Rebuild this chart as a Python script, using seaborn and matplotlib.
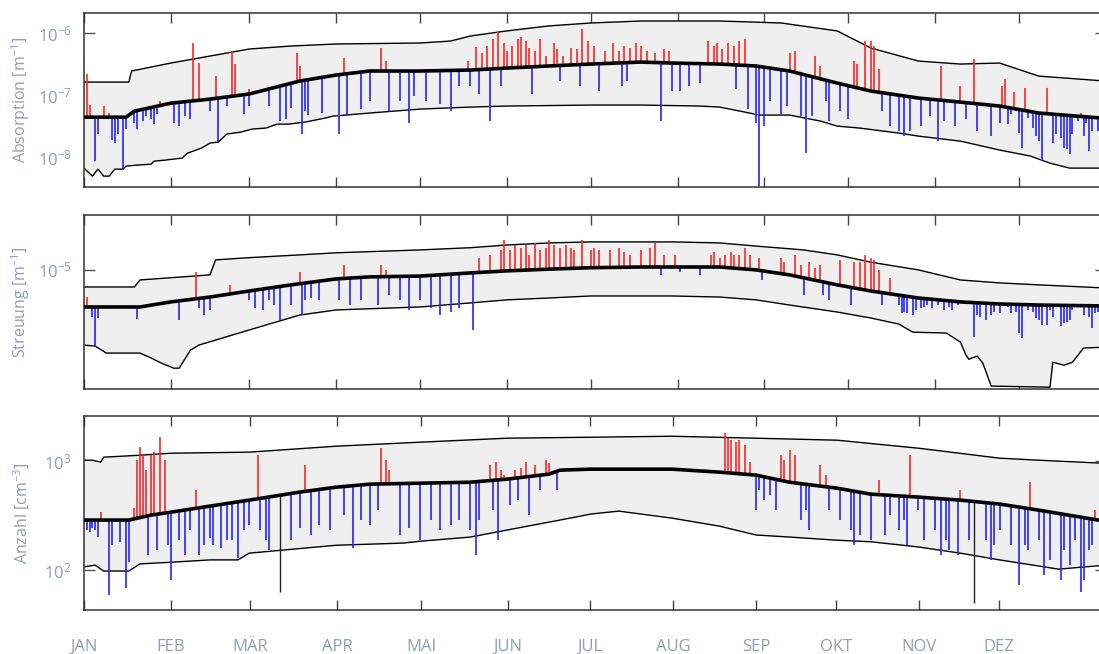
import numpy as np
import matplotlib
matplotlib.use("Agg")
import matplotlib.pyplot as plt
import seaborn as sns
from matplotlib.ticker import LogLocator, LogFormatterSciNotation, NullLocator, FixedLocator

# ---------------------------------------------------------------- data
# day-of-year positions of the month starts
month_starts = [0, 31, 59, 90, 120, 151, 181, 212, 243, 273, 304, 334]
month_names = ["JAN", "FEB", "MÄR", "APR", "MAI", "JUN", "JUL", "AUG", "SEP", "OKT", "NOV", "DEZ"]
# month ticks of the particle-count panel
count_ticks = [0, 31.1, 59.3, 90.4, 120.4, 151.4, 180.7, 210.4, 240, 268.6, 298.2, 326.8]

# --- Absorption [m^-1]
abs_med_day = [0, 15, 18, 31, 45, 59, 77, 90, 102, 120, 138, 151, 166, 181, 199, 210, 227, 240,
               252, 269, 281, 298, 313, 327, 341, 365]
abs_med = [4.4e-8, 4.4e-8, 5.5e-8, 7.4e-8, 8.6e-8, 1.04e-7, 1.68e-7, 2.1e-7, 2.44e-7, 2.44e-7,
           2.53e-7, 2.72e-7, 2.94e-7, 3.16e-7, 3.4e-7, 3.28e-7, 3.16e-7, 2.94e-7, 2.44e-7,
           1.56e-7, 1.16e-7, 8.95e-8, 7.7e-8, 6.65e-8, 5.13e-8, 4.2e-8]
abs_max_day = [0, 16, 17, 31, 45, 59, 74, 90, 120, 131, 138, 151, 166, 181, 199, 227, 249, 269,
               281, 298, 313, 327, 341, 365]
abs_max = [1.62e-7, 1.62e-7, 2.44e-7, 3.28e-7, 4.25e-7, 5.52e-7, 6.17e-7, 6.65e-7, 6.9e-7,
           7.43e-7, 8.95e-7, 1.08e-6, 1.3e-6, 1.45e-6, 1.56e-6, 1.56e-6, 1.45e-6, 1.08e-6,
           5.73e-7, 3.53e-7, 3.16e-7, 3.28e-7, 2.02e-7, 1.68e-7]
abs_min_day = [0, 3, 5, 7, 9, 11, 14, 15, 19, 24, 25, 29, 35, 37, 42, 45, 48, 51, 56, 60, 65,
               69, 73, 79, 86, 89, 102, 120, 138, 151, 181, 199, 220, 227, 236, 241, 252, 263,
               269, 277, 291, 298, 313, 327, 338, 345, 352, 365]
abs_min = [6.65e-9, 4.94e-9, 6.4e-9, 4.94e-9, 4.94e-9, 6.4e-9, 6.4e-9, 7.16e-9, 7.43e-9,
           7.7e-9, 8.6e-9, 8.95e-9, 9.64e-9, 1.16e-8, 1.4e-8, 1.68e-8, 1.75e-8, 2.35e-8,
           2.53e-8, 2.83e-8, 2.94e-8, 3.4e-8, 3.4e-8, 3.67e-8, 4.25e-8, 4.58e-8, 5.13e-8,
           5.94e-8, 6.4e-8, 6.65e-8, 6.9e-8, 6.9e-8, 6.65e-8, 6.4e-8, 5.32e-8, 4.76e-8,
           4.76e-8, 3.81e-8, 3.16e-8, 2.94e-8, 2.44e-8, 2.18e-8, 1.81e-8, 1.3e-8, 1.04e-8,
           8.0e-9, 6.65e-9, 6.65e-9]
abs_hi_day = [1, 2, 7, 9, 27, 39, 41, 47, 53, 54, 59, 76, 77, 93, 106, 108, 137, 140, 142, 144,
              146, 148, 150, 151, 153, 155, 156, 158, 159, 161, 163, 165, 168, 169, 171, 174,
              176, 178, 180, 182, 186, 189, 191, 193, 195, 197, 199, 201, 204, 207, 209, 223,
              225, 226, 228, 230, 232, 234, 236, 252, 254, 261, 263, 275, 276, 279, 281, 282,
              284, 306, 313, 318, 328, 329, 332, 336, 344, 356]
abs_hi = [2.18e-7, 6.9e-8, 6.65e-8, 5.13e-8, 8.0e-8, 6.9e-7, 3.28e-7, 2.02e-7, 5.13e-7, 3.16e-7,
          1.25e-7, 4.76e-7, 2.94e-7, 3.95e-7, 5.73e-7, 3.53e-7, 3.53e-7, 5.94e-7, 4.76e-7,
          6.17e-7, 8.0e-7, 1.08e-6, 6.9e-7, 5.13e-7, 6.17e-7, 8.0e-7, 8.6e-7, 7.43e-7, 5.73e-7,
          5.13e-7, 8.0e-7, 4.25e-7, 6.9e-7, 5.52e-7, 4.25e-7, 5.73e-7, 5.52e-7, 1.16e-6,
          7.43e-7, 6.17e-7, 5.13e-7, 6.9e-7, 5.13e-7, 6.17e-7, 5.73e-7, 6.9e-7, 6.17e-7,
          5.13e-7, 4.76e-7, 5.52e-7, 5.13e-7, 7.43e-7, 6.17e-7, 6.9e-7, 5.52e-7, 6.9e-7,
          6.17e-7, 7.43e-7, 8.0e-7, 4.76e-7, 5.13e-7, 4.25e-7, 2.94e-7, 3.53e-7, 3.16e-7,
          7.43e-7, 7.43e-7, 6.17e-7, 2.63e-7, 2.94e-7, 1.4e-7, 3.81e-7, 1.4e-7, 1.81e-7,
          1.12e-7, 1.3e-7, 1.3e-7, 5.13e-8]
abs_lo_day = [4, 5, 10, 11, 12, 14, 15, 18, 19, 21, 22, 24, 25, 26, 32, 34, 36, 38, 45, 48, 51,
              57, 59, 66, 70, 72, 74, 78, 79, 80, 85, 91, 94, 99, 102, 109, 113, 116, 118, 122,
              127, 131, 134, 138, 141, 145, 149, 160, 170, 177, 184, 192, 194, 206, 210, 213,
              216, 220, 233, 237, 240, 241, 243, 245, 249, 251, 256, 258, 260, 265, 266, 270,
              273, 285, 288, 291, 293, 295, 299, 302, 305, 307, 311, 315, 319, 324, 327, 330,
              331, 334, 335, 337, 339, 340, 341, 342, 346, 347, 349, 350, 351, 352, 353, 355,
              357, 358, 359, 360, 362]
abs_lo = [8.6e-9, 2.35e-8, 1.88e-8, 1.68e-8, 2.35e-8, 6.4e-9, 2.83e-8, 3.53e-8, 2.83e-8, 3.81e-8,
          4.58e-8, 4.1e-8, 3.4e-8, 4.94e-8, 3.53e-8, 3.16e-8, 4.58e-8, 4.1e-8, 5.5e-8, 1.81e-8,
          6.65e-8, 4.94e-8, 6.65e-8, 6.65e-8, 3.81e-8, 4.1e-8, 6.17e-8, 2.35e-8, 5.5e-8,
          4.76e-8, 5.13e-8, 2.35e-8, 4.58e-8, 5.94e-8, 8.0e-8, 5.5e-8, 8.0e-8, 3.53e-8,
          9.64e-8, 8.0e-8, 7.16e-8, 5.5e-8, 1.4e-7, 1.4e-7, 1.04e-7, 3.81e-8, 1.4e-7, 1.04e-7,
          1.68e-7, 1.4e-7, 1.16e-7, 1.4e-7, 1.68e-7, 3.81e-8, 1.16e-7, 1.16e-7, 1.4e-7,
          1.56e-7, 1.25e-7, 5.94e-8, 3.53e-8, 3.4e-9, 3.16e-8, 8.0e-8, 4.94e-8, 6.65e-8,
          4.58e-8, 1.16e-8, 4.58e-8, 8.0e-8, 3.81e-8, 5.5e-8, 4.1e-8, 5.5e-8, 3.16e-8, 2.63e-8,
          2.18e-8, 2.63e-8, 3.16e-8, 4.58e-8, 1.81e-8, 3.81e-8, 3.16e-8, 4.1e-8, 2.63e-8,
          2.18e-8, 3.53e-8, 3.4e-8, 4.94e-8, 2.44e-8, 1.4e-8, 4.25e-8, 2.94e-8, 2.18e-8,
          1.81e-8, 8.6e-9, 1.68e-8, 2.35e-8, 2.02e-8, 1.4e-8, 1.35e-8, 1.12e-8, 2.35e-8,
          3.81e-8, 2.18e-8, 3.53e-8, 1.25e-8, 2.63e-8, 2.63e-8]

# --- Streuung [m^-1]
sca_med_day = [0, 20, 31, 45, 59, 74, 90, 102, 120, 138, 151, 166, 181, 199, 227, 240, 252, 269,
               281, 298, 313, 327, 341, 365]
sca_med = [6.06e-6, 6.06e-6, 6.49e-6, 6.93e-6, 7.52e-6, 8.17e-6, 8.85e-6, 9.1e-6, 9.2e-6, 9.6e-6,
           9.87e-6, 1.01e-5, 1.03e-5, 1.04e-5, 1.04e-5, 1.0e-5, 9.35e-6, 8.17e-6, 7.52e-6,
           6.84e-6, 6.49e-6, 6.31e-6, 6.22e-6, 6.14e-6]
sca_max_day = [0, 18, 20, 45, 47, 59, 77, 90, 120, 138, 151, 166, 181, 210, 227, 240, 257, 269,
               281, 298, 313, 327, 341, 365]
sca_max = [7.94e-6, 7.94e-6, 8.73e-6, 9.35e-6, 1.145e-5, 1.18e-5, 1.225e-5, 1.26e-5, 1.31e-5,
           1.35e-5, 1.4e-5, 1.44e-5, 1.46e-5, 1.46e-5, 1.44e-5, 1.38e-5, 1.31e-5, 1.225e-5,
           1.11e-5, 1.0e-5, 8.73e-6, 8.39e-6, 8.17e-6, 7.83e-6]
sca_min_day = [0, 4, 8, 20, 24, 27, 32, 34, 38, 41, 59, 77, 90, 120, 138, 151, 166, 181, 210,
               227, 240, 252, 269, 281, 291, 296, 308, 313, 315, 316, 319, 321, 324, 345, 346,
               350, 353, 357, 365]
sca_min = [3.62e-6, 3.57e-6, 3.25e-6, 3.25e-6, 3.04e-6, 2.87e-6, 2.65e-6, 2.65e-6, 3.38e-6,
           3.62e-6, 4.44e-6, 5.43e-6, 5.82e-6, 6.06e-6, 6.4e-6, 6.67e-6, 6.84e-6, 7.03e-6,
           7.03e-6, 6.93e-6, 6.67e-6, 6.22e-6, 5.66e-6, 5.22e-6, 4.81e-6, 4.31e-6, 4.26e-6,
           3.77e-6, 3.16e-6, 2.99e-6, 3.12e-6, 2.84e-6, 2.08e-6, 2.05e-6, 2.87e-6, 2.76e-6,
           2.87e-6, 3.48e-6, 3.52e-6]
sca_hi_day = [1, 40, 52, 77, 93, 106, 108, 141, 145, 149, 150, 152, 154, 156, 158, 159, 161, 163,
              165, 166, 168, 170, 172, 174, 175, 178, 181, 182, 184, 188, 191, 193, 195, 199,
              202, 204, 207, 211, 224, 225, 227, 229, 231, 232, 234, 236, 238, 241, 249, 250,
              254, 256, 259, 261, 263, 270, 275, 277, 279, 281, 282, 284, 288]
sca_hi = [6.93e-6, 9.73e-6, 8.17e-6, 9.73e-6, 1.07e-5, 1.07e-5, 1.0e-5, 1.18e-5, 1.225e-5,
          1.31e-5, 1.5e-5, 1.31e-5, 1.4e-5, 1.35e-5, 1.4e-5, 1.225e-5, 1.44e-5, 1.31e-5,
          1.35e-5, 1.5e-5, 1.4e-5, 1.35e-5, 1.4e-5, 1.35e-5, 1.31e-5, 1.5e-5, 1.31e-5,
          1.35e-5, 1.31e-5, 1.31e-5, 1.35e-5, 1.28e-5, 1.225e-5, 1.31e-5, 1.35e-5, 1.44e-5,
          1.225e-5, 1.225e-5, 1.225e-5, 1.28e-5, 1.18e-5, 1.225e-5, 1.28e-5, 1.225e-5,
          1.225e-5, 1.35e-5, 1.225e-5, 1.18e-5, 1.18e-5, 1.11e-5, 1.225e-5, 1.07e-5, 1.11e-5,
          1.03e-5, 1.07e-5, 1.145e-5, 1.11e-5, 1.11e-5, 1.225e-5, 1.18e-5, 1.145e-5, 1.0e-5,
          8.97e-6]
sca_lo_day = [3, 4, 5, 19, 34, 41, 43, 45, 59, 61, 64, 66, 68, 70, 74, 78, 79, 81, 84, 91, 95,
              99, 105, 109, 113, 116, 120, 124, 127, 131, 134, 139, 206, 213, 220, 242, 257, 264,
              266, 274, 285, 291, 292, 293, 294, 296, 297, 299, 300, 301, 303, 305, 307, 309,
              310, 312, 318, 319, 320, 322, 324, 325, 327, 330, 331, 333, 334, 335, 337, 339,
              340, 341, 342, 344, 345, 346, 349, 350, 351, 352, 353, 357, 359, 360, 361, 362]
sca_lo = [5.29e-6, 3.52e-6, 5.22e-6, 5.15e-6, 5.08e-6, 5.98e-6, 5.43e-6, 5.82e-6, 6.67e-6,
          5.98e-6, 5.82e-6, 6.67e-6, 6.22e-6, 5.08e-6, 6.22e-6, 5.43e-6, 6.67e-6, 6.84e-6,
          6.67e-6, 6.67e-6, 6.22e-6, 6.67e-6, 6.22e-6, 7.13e-6, 6.67e-6, 5.82e-6, 6.67e-6,
          5.98e-6, 5.43e-6, 5.66e-6, 5.98e-6, 4.44e-6, 9.35e-6, 9.73e-6, 9.35e-6, 8.73e-6,
          7.13e-6, 7.13e-6, 6.67e-6, 6.22e-6, 6.22e-6, 6.22e-6, 5.58e-6, 5.66e-6, 5.58e-6,
          5.43e-6, 5.82e-6, 5.98e-6, 6.06e-6, 6.22e-6, 5.98e-6, 6.22e-6, 5.82e-6, 6.06e-6,
          5.82e-6, 6.22e-6, 4.04e-6, 5.43e-6, 5.29e-6, 5.08e-6, 5.43e-6, 5.66e-6, 5.58e-6,
          6.06e-6, 5.58e-6, 5.66e-6, 4.26e-6, 3.98e-6, 5.82e-6, 5.66e-6, 5.22e-6, 5.08e-6,
          4.75e-6, 4.75e-6, 5.82e-6, 5.29e-6, 4.68e-6, 4.88e-6, 4.94e-6, 5.08e-6, 5.82e-6,
          5.43e-6, 5.29e-6, 4.56e-6, 5.58e-6, 5.66e-6]

# --- Anzahl [cm^-3]
num_med_day = [0, 16, 24, 31, 45, 59, 77, 90, 102, 120, 138, 151, 166, 170, 181, 210, 227, 240,
               252, 269, 281, 298, 313, 327, 341, 365]
num_med = [288, 288, 320, 340, 387, 439, 520, 577, 615, 628, 641, 684, 760, 827, 845, 845, 793,
           745, 641, 565, 498, 468, 439, 404, 355, 280]
num_max_day = [0, 3, 6, 7, 20, 31, 59, 90, 120, 151, 181, 210, 240, 269, 298, 327, 341, 365]
num_max = [1021, 1021, 980, 1088, 1135, 1184, 1210, 1373, 1494, 1626, 1660, 1695, 1626, 1559,
           1316, 1066, 1021, 955]
num_min_day = [0, 4, 7, 16, 20, 31, 45, 55, 59, 90, 114, 120, 138, 151, 170, 181, 191, 210, 227,
               240, 252, 269, 281, 298, 313, 327, 341, 348, 365]
num_min = [107, 111, 98, 98, 114, 118, 124, 124, 143, 169, 177, 184, 201, 233, 288, 327, 348,
           300, 253, 210, 201, 188, 182, 163, 143, 124, 109, 102, 111]
num_hi_day = [6, 18, 19, 20, 21, 22, 24, 25, 27, 29, 40, 62, 79, 106, 108, 109, 145, 147, 149,
              150, 154, 156, 158, 161, 165, 166, 229, 230, 231, 233, 234, 236, 238, 249, 250,
              252, 254, 263, 265, 284, 295, 313, 338, 361]
num_hi = [340, 371, 1021, 1344, 1135, 827, 1135, 1210, 1660, 1021, 542, 1135, 919, 1316, 1021,
          827, 919, 980, 827, 745, 827, 863, 980, 919, 1021, 959, 1807, 1626, 1559, 1494, 1559,
          1403, 980, 1135, 1021, 1262, 1135, 919, 745, 670, 1135, 542, 641, 355]
num_lo_day = [1, 2, 3, 4, 5, 9, 10, 13, 15, 16, 23, 26, 30, 31, 34, 36, 38, 41, 43, 45, 46, 49,
              51, 53, 55, 57, 59, 63, 65, 66, 74, 77, 81, 84, 88, 93, 96, 99, 102, 105, 113, 116,
              120, 124, 127, 131, 134, 138, 140, 141, 146, 148, 152, 155, 159, 163, 169, 240,
              241, 243, 245, 247, 256, 258, 259, 266, 270, 274, 275, 277, 281, 286, 288, 291,
              293, 294, 298, 300, 304, 306, 308, 309, 312, 316, 322, 324, 325, 327, 331, 334,
              336, 337, 341, 343, 345, 349, 350, 352, 354, 356, 357, 359, 360]
num_lo = [233, 223, 243, 233, 201, 59, 169, 181, 68, 118, 137, 152, 169, 81, 188, 137, 233, 137,
          169, 196, 169, 159, 188, 188, 129, 233, 259, 233, 188, 152, 188, 243, 210, 259, 233,
          320, 159, 288, 259, 355, 210, 243, 188, 288, 233, 259, 288, 233, 137, 288, 355, 188,
          395, 439, 320, 542, 542, 355, 542, 439, 488, 355, 288, 355, 233, 355, 288, 233, 169,
          210, 188, 210, 320, 233, 288, 169, 355, 188, 233, 137, 188, 152, 137, 188, 188, 124,
          169, 233, 169, 73, 169, 152, 188, 90, 124, 81, 152, 111, 188, 63, 81, 152, 169]
# days whose anomaly line is drawn in black
num_dark_day = [70, 318]
num_dark = [63, 50]

# ---------------------------------------------------------------- style
sns.set_theme(style="white")
plt.rcParams["font.family"] = ["Open Sans", "DejaVu Sans"]
plt.rcParams["mathtext.fontset"] = "custom"
plt.rcParams["mathtext.rm"] = "Open Sans"
plt.rcParams["mathtext.it"] = "Open Sans:italic"
plt.rcParams["mathtext.bf"] = "Open Sans:bold"

LABEL_C = "#8c9fb8"
FILL_C = "#efefef"
RED = "#ff2424"
BLUE = "#2424ff"

fig = plt.figure(figsize=(10.99, 6.54), dpi=100)
W, H = 1099.0, 654.0
x0, x1 = 84.0, 1106.0
boxes = [(13, 187), (215, 389), (416, 610)]
axes = [fig.add_axes([x0 / W, 1 - b / H, (x1 - x0) / W, (b - t) / H]) for t, b in boxes]


def log_interp(x, xp, fp):
    return 10 ** np.interp(x, xp, np.log10(fp))


def draw_panel(ax, med_d, med, max_d, mx, min_d, mn, hi_d, hi, lo_d, lo, dark_d=(), dark=()):
    # envelope band
    ax.fill(np.r_[max_d, min_d[::-1]], np.r_[mx, mn[::-1]], color=FILL_C, lw=0, zorder=1)
    sns.lineplot(x=max_d, y=mx, ax=ax, color="black", lw=1.0, estimator=None, sort=False, zorder=2)
    sns.lineplot(x=min_d, y=mn, ax=ax, color="black", lw=1.0, estimator=None, sort=False, zorder=2)
    # daily deviations from the median
    ax.vlines(hi_d, log_interp(hi_d, med_d, med), hi, color=RED, lw=1.2, zorder=3)
    ax.vlines(lo_d, log_interp(lo_d, med_d, med), lo, color=BLUE, lw=1.2, zorder=3)
    if len(dark_d):
        ax.vlines(dark_d, log_interp(dark_d, med_d, med), dark, color="#222222", lw=1.0, zorder=3)
    sns.lineplot(x=med_d, y=med, ax=ax, color="black", lw=2.6, estimator=None, sort=False, zorder=4)


panels = [
    (abs_med_day, abs_med, abs_max_day, abs_max, abs_min_day, abs_min, abs_hi_day, abs_hi,
     abs_lo_day, abs_lo),
    (sca_med_day, sca_med, sca_max_day, sca_max, sca_min_day, sca_min, sca_hi_day, sca_hi,
     sca_lo_day, sca_lo),
    (num_med_day, num_med, num_max_day, num_max, num_min_day, num_min, num_hi_day, num_hi,
     num_lo_day, num_lo),
]
ylims = [(3.3e-9, 2.1e-6), (2.0e-6, 2.1e-5), (43, 2600)]
ylabels = ["Absorption [m$^{-1}$]", "Streuung [m$^{-1}$]", "Anzahl [cm$^{-3}$]"]

for i, (ax, p) in enumerate(zip(axes, panels)):
    args = [np.asarray(a, dtype=float) for a in p]
    extra = ()
    if i == 2:
        extra = (np.asarray(num_dark_day, float), np.asarray(num_dark, float))
    draw_panel(ax, *args, *extra)
    ax.set_yscale("log")
    ax.set_ylim(*ylims[i])
    ax.set_xlim(0, 365)
    ax.yaxis.set_major_locator(LogLocator(base=10, numticks=10))
    ax.yaxis.set_major_formatter(LogFormatterSciNotation())
    ax.yaxis.set_minor_locator(NullLocator())
    ax.set_ylabel(ylabels[i], color=LABEL_C, fontsize=11.5)
    ax.yaxis.set_label_coords(-0.051, 0.5)
    ax.set_xlabel("")
    if i < 2:
        ax.xaxis.set_major_locator(FixedLocator(month_starts))
        ax.set_xticklabels([])
    else:
        ax.xaxis.set_major_locator(FixedLocator(count_ticks))
        ax.set_xticklabels(month_names)
    ax.tick_params(axis="x", direction="in", length=7.2, width=1.0, color="#444444",
                   top=True, bottom=True, labelsize=12, labelcolor=LABEL_C, pad=21)
    ax.tick_params(axis="y", direction="in", length=7.9, width=1.0, color="#555555",
                   left=True, right=True, labelsize=12, labelcolor=LABEL_C, pad=9)
    for s in ax.spines.values():
        s.set_visible(True)
        s.set_color("#333333")
        s.set_linewidth(1.1)
    ax.grid(False)
    ax.set_facecolor("white")

fig.savefig("out.png", dpi=100)
